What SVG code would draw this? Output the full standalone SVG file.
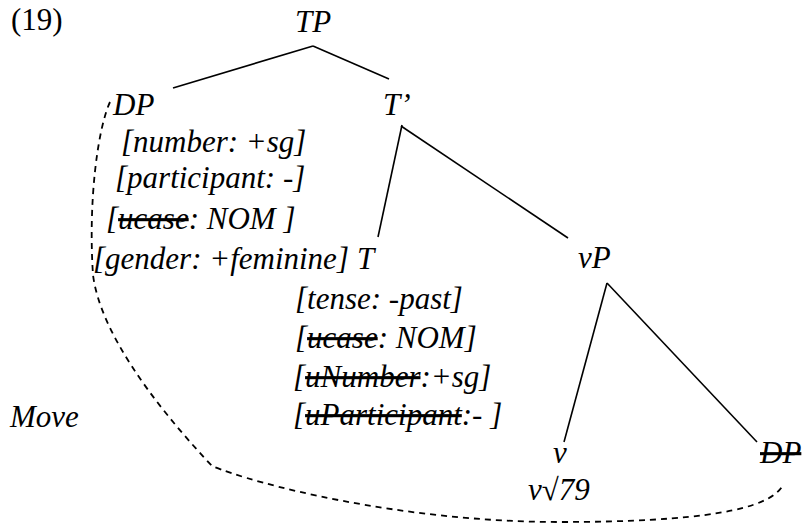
<svg xmlns="http://www.w3.org/2000/svg" width="809" height="526" viewBox="0 0 809 526">
<style>
  text { font-family: "Liberation Serif", "Times New Roman", serif; font-size: 31px; fill: #000; }
  .it { font-style: italic; }
  .st { text-decoration: line-through; }
  .edge { stroke: #000; stroke-width: 1.6; fill: none; }
  .move { stroke: #000; stroke-width: 1.8; fill: none; stroke-dasharray: 6 5; }
</style>
<rect width="809" height="526" fill="#fff"/>
<text id="label" x="11" y="30">(19)</text>
<g id="connectors">
  <line class="edge" x1="313" y1="46" x2="173" y2="88"/>
  <line class="edge" x1="313" y1="46" x2="389" y2="79"/>
  <line class="edge" x1="402" y1="125" x2="378" y2="237"/>
  <line class="edge" x1="401" y1="126" x2="568" y2="238"/>
  <line class="edge" x1="607" y1="283" x2="564" y2="442"/>
  <line class="edge" x1="607" y1="283" x2="757" y2="442"/>
  <path class="move" d="M110,102 C98,128 88,200 93,275 C100,330 150,400 212,466 C255,484 400,522 560,522 C700,522 770,510 783,485"/>
</g>
<g id="TP"><text class="it" x="295" y="32">TP</text></g>
<g id="DP">
  <text class="it" x="113" y="115">DP</text>
  <text class="it" x="121" y="152">[number: +sg]</text>
  <text class="it" x="115" y="188">[participant: -]</text>
  <text class="it" x="106" y="229">[<tspan class="st">ucase</tspan>: NOM ]</text>
  <text class="it" x="93" y="269">[gender: +feminine]</text>
</g>
<g id="Tbar"><text class="it" x="383" y="115">T’</text></g>
<g id="T">
  <text class="it" x="357" y="269">T</text>
  <text class="it" x="295" y="309">[tense: -past]</text>
  <text class="it" x="295" y="348">[<tspan class="st">ucase</tspan>: NOM]</text>
  <text class="it" x="293" y="387">[<tspan class="st">uNumber</tspan>:+sg]</text>
  <text class="it" x="293" y="425">[<tspan class="st">uParticipant</tspan>:- ]</text>
</g>
<g id="vP"><text class="it" x="578" y="268">vP</text></g>
<g id="v">
  <text class="it" x="553" y="463">v</text>
  <text class="it" x="528" y="500">v√79</text>
</g>
<g id="DP2"><text class="it st" x="760" y="463">DP</text></g>
<g id="Move"><text class="it" x="10" y="427">Move</text></g>
</svg>
